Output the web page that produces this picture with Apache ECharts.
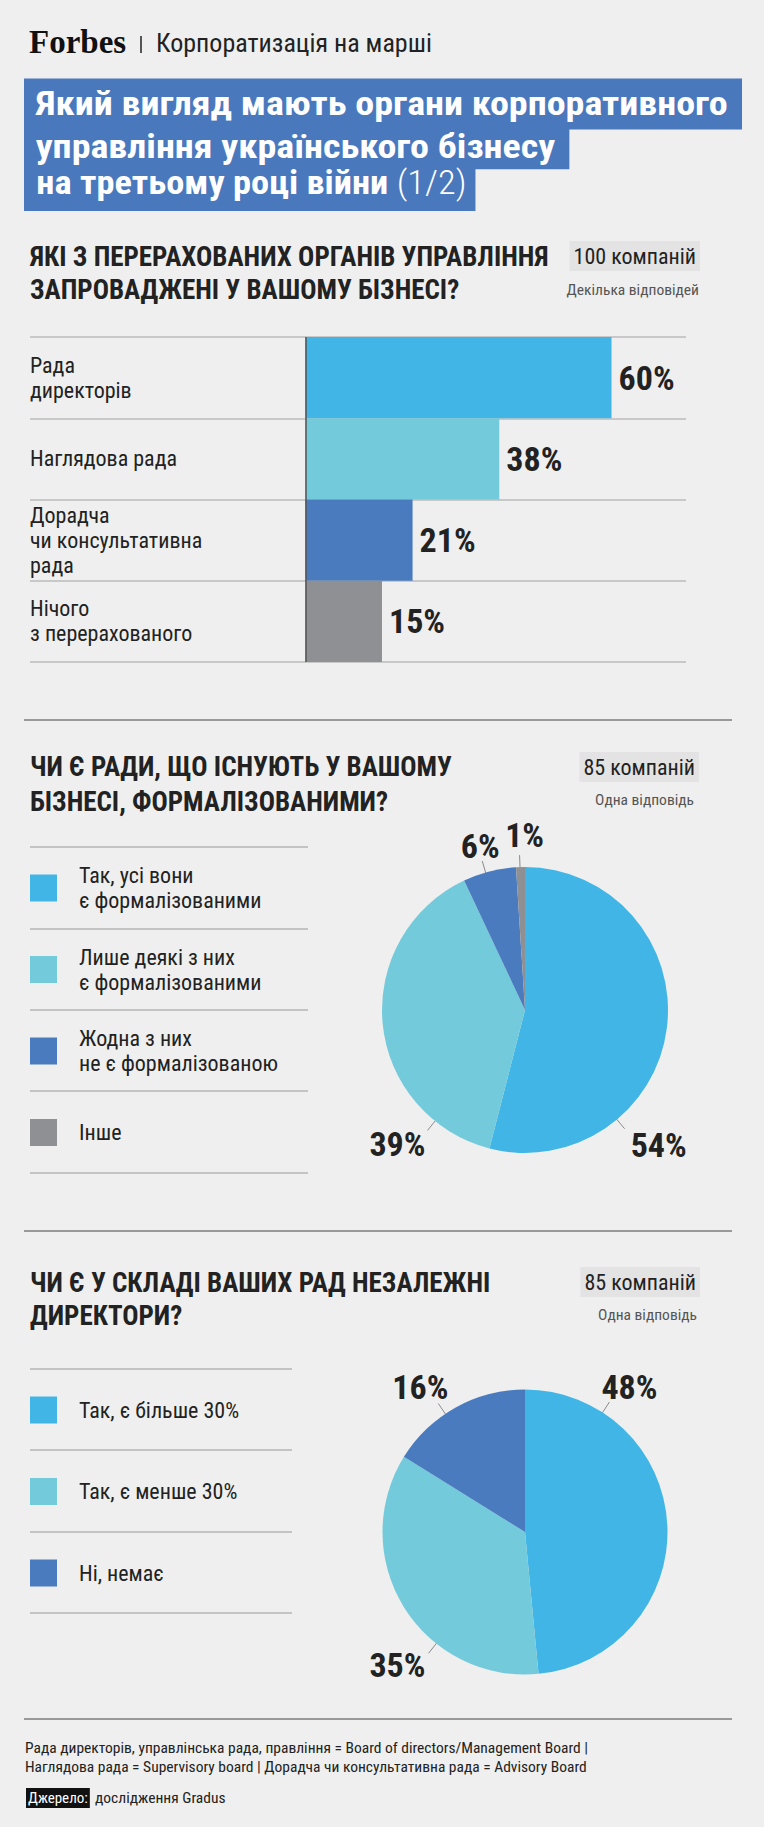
<!DOCTYPE html>
<html><head><meta charset="utf-8">
<script src="https://cdn.jsdelivr.net/npm/echarts@6/dist/echarts.min.js"></script>
<style>html,body{margin:0;padding:0;background:#efefef}#main{width:764px;height:1827px}</style>
</head><body><div id="main"></div>
<script>
// ---------- data ----------
const barCategories = ['Рада\nдиректорів', 'Наглядова рада', 'Дорадча\nчи консультативна\nрада', 'Нічого\nз перерахованого'];
const barValues = [60, 38, 21, 15];

const pie1Categories = ['Так, усі вони\nє формалізованими', 'Лише деякі з них\nє формалізованими', 'Жодна з них\nне є формалізованою', 'Інше'];
const pie1Values = [54, 39, 6, 1];

const pie2Categories = ['Так, є більше 30%', 'Так, є менше 30%', 'Ні, немає'];
const pie2Values = [48, 35, 16];

// ---------- style ----------
const FONT = "'Roboto Condensed', 'Liberation Sans Narrow', sans-serif";
const palette = ['#41b6e6', '#73cadb', '#4a7bbf', '#8f9094'];
const INK = '#222';

const pie1Center = [525, 1010], pie1Radius = 143;
const pie2Center = [525, 1532], pie2Radius = 142.5;
const pie1LabelPlace = [
  {angle: 140, align: 'left', dx: 6, dy: 16},
  {angle: 219, align: 'right', dx: -2, dy: 14},
  {angle: 344, align: 'center', dx: -2, dy: -15},
  {angle: 358, align: 'center', dx: 5, dy: -20}
];
const pie2LabelPlace = [
  {angle: 33, align: 'center', dx: 20, dy: -15},
  {angle: 218.5, align: 'right', dx: -3, dy: 12},
  {angle: 326, align: 'center', dx: -18, dy: -16}
];

function makeLabelLayout(center, place) {
  return function (params) {
    const p = place[params.dataIndex];
    const a = p.angle * Math.PI / 180;
    const sx = center[0] + 127 * Math.sin(a), sy = center[1] - 127 * Math.cos(a);
    const ex = center[0] + 155 * Math.sin(a), ey = center[1] - 155 * Math.cos(a);
    return {
      x: ex + p.dx, y: ey + p.dy, align: p.align, verticalAlign: 'middle',
      labelLinePoints: [[sx, sy], [ex, ey], [ex, ey]]
    };
  };
}

function txt(x, y, text, o, extra) {
  return Object.assign({type: 'text', x: x, y: y, silent: true, style: Object.assign({
    text: text, fontFamily: FONT, fontSize: 20, fill: INK, align: 'left', verticalAlign: 'middle'
  }, o || {})}, extra || {});
}
function hline(x1, x2, y, color, w) {
  return {type: 'line', silent: true, shape: {x1: x1, y1: y, x2: x2, y2: y}, style: {stroke: color, lineWidth: w}};
}

const chart = echarts.init(document.getElementById('main'), null, {renderer: 'svg', width: 764, height: 1827});

const TITLE_BG = '#4a78bd';
const graphic = [
  // header
  txt(29, 42, 'Forbes', {fontFamily: "'Liberation Serif', 'DejaVu Serif', serif", fontWeight: 'bold', fontSize: 33, fill: '#111'}),
  {type: 'line', silent: true, shape: {x1: 141, y1: 36, x2: 141, y2: 53}, style: {stroke: INK, lineWidth: 1.5}},
  txt(156, 43, 'Корпоратизація на марші', {fontSize: 26}),
  // title boxes
  txt(24, 104, 'Який вигляд мають органи корпоративного', {fontSize: 32.5, fontWeight: 'bold', fill: '#fff', backgroundColor: TITLE_BG, lineHeight: 44, padding: [4, 12, 3, 10]}, {scaleX: 1.17}),
  txt(24, 146.5, 'управління українського бізнесу', {fontSize: 32.5, fontWeight: 'bold', fill: '#fff', backgroundColor: TITLE_BG, lineHeight: 36, padding: [0, 12, 9.5, 10]}, {scaleX: 1.17}),
  txt(24, 189, '{b|на третьому році війни} {r|(1/2)}', {fontSize: 32.5, fill: '#fff', backgroundColor: TITLE_BG, lineHeight: 32, padding: [0, 8, 12, 11],
    rich: {b: {fontSize: 32.5, fontWeight: 'bold', fill: '#fff', fontFamily: FONT}, r: {fontSize: 32.5, fontWeight: 300, fill: '#fff', fontFamily: FONT}}}, {scaleX: 1.12}),
  // section 1 heading
  txt(30, 273.5, 'ЯКІ З ПЕРЕРАХОВАНИХ ОРГАНІВ УПРАВЛІННЯ\nЗАПРОВАДЖЕНІ У ВАШОМУ БІЗНЕСІ?', {fontSize: 27, fontWeight: 'bold', lineHeight: 33}),
  txt(700, 256, '100 компаній', {fontSize: 22, align: 'right', backgroundColor: '#e3e3e3', lineHeight: 30, padding: [0, 4, 0, 4]}),
  txt(699, 289.5, 'Декілька відповідей', {fontSize: 15.5, align: 'right', fill: '#555'}),
  hline(24, 732, 720, '#999', 2),
  // section 2 heading
  txt(30, 784.5, 'ЧИ Є РАДИ, ЩО ІСНУЮТЬ У ВАШОМУ\nБІЗНЕСІ, ФОРМАЛІЗОВАНИМИ?', {fontSize: 27, fontWeight: 'bold', lineHeight: 35}),
  txt(699, 767, '85 компаній', {fontSize: 22, align: 'right', backgroundColor: '#e3e3e3', lineHeight: 30, padding: [0, 4, 0, 4]}),
  txt(694, 800, 'Одна відповідь', {fontSize: 15.5, align: 'right', fill: '#555'}),
  hline(30, 308, 847, '#c4c4c4', 2),
  hline(30, 308, 929, '#c4c4c4', 2),
  hline(30, 308, 1010, '#c4c4c4', 2),
  hline(30, 308, 1091, '#c4c4c4', 2),
  hline(30, 308, 1173, '#c4c4c4', 2),
  hline(24, 732, 1231, '#999', 2),
  // section 3 heading
  txt(30, 1299.5, 'ЧИ Є У СКЛАДІ ВАШИХ РАД НЕЗАЛЕЖНІ\nДИРЕКТОРИ?', {fontSize: 27, fontWeight: 'bold', lineHeight: 33}),
  txt(700, 1282, '85 компаній', {fontSize: 22, align: 'right', backgroundColor: '#e3e3e3', lineHeight: 30, padding: [0, 4, 0, 4]}),
  txt(697, 1314.5, 'Одна відповідь', {fontSize: 15.5, align: 'right', fill: '#555'}),
  hline(30, 292, 1369, '#c4c4c4', 2),
  hline(30, 292, 1450, '#c4c4c4', 2),
  hline(30, 292, 1532, '#c4c4c4', 2),
  hline(30, 292, 1613, '#c4c4c4', 2),
  hline(24, 732, 1719, '#999', 2),
  // footnote
  txt(25, 1757.5, 'Рада директорів, управлінська рада, правління = Board of directors/Management Board |\nНаглядова рада = Supervisory board | Дорадча чи консультативна рада = Advisory Board', {fontSize: 15.5, lineHeight: 19.5}),
  txt(26, 1798, 'Джерело:', {fontSize: 15, fill: '#fff', backgroundColor: '#111', lineHeight: 20, padding: [0, 2, 0, 2]}),
  txt(95, 1798, 'дослідження Gradus', {fontSize: 15.5})
];

const legendText = {fontFamily: FONT, fontSize: 22, lineHeight: 25, color: INK, padding: [0, 0, 0, 17]};

const option = {
  backgroundColor: '#efefef',
  animation: false,
  textStyle: {fontFamily: FONT},
  graphic: graphic,
  grid: [{left: 30, top: 337, width: 656, height: 325, containLabel: false}],
  xAxis: [{type: 'value', gridIndex: 0, min: -54, max: 74.6, show: false}],
  yAxis: [{
    type: 'category', gridIndex: 0, data: barCategories, inverse: true,
    axisLine: {show: false}, axisTick: {show: false},
    splitLine: {show: true, lineStyle: {color: '#c8c8c8', width: 2}},
    axisLabel: {align: 'left', margin: 0, fontFamily: FONT, fontSize: 22, lineHeight: 25, color: INK}
  }],
  legend: [
    {
      orient: 'vertical', left: 30, top: 863, padding: 0, itemGap: 31.5, itemWidth: 27, itemHeight: 27,
      icon: 'rect', selectedMode: false, textStyle: legendText,
      data: pie1Categories.map(function (n, i) {
        return i === pie1Categories.length - 1 ? {name: n, textStyle: {padding: [12.5, 0, 12.5, 17]}} : {name: n};
      })
    },
    {
      orient: 'vertical', left: 30, top: 1396.5, padding: 0, itemGap: 54.5, itemWidth: 27, itemHeight: 27,
      icon: 'rect', selectedMode: false, textStyle: legendText,
      data: pie2Categories.map(function (n) { return {name: n}; })
    }
  ],
  series: [
    {
      type: 'bar', xAxisIndex: 0, yAxisIndex: 0, barCategoryGap: '0%', silent: true,
      data: barValues.map(function (v, i) { return {value: v, itemStyle: {color: palette[i]}}; }),
      label: {show: true, position: 'right', distance: 7, formatter: '{c}%', fontFamily: FONT, fontWeight: 'bold', fontSize: 34, color: INK},
      markLine: {silent: true, symbol: 'none', label: {show: false}, lineStyle: {color: '#555', width: 1.5, type: 'solid'}, data: [{xAxis: 0}]}
    },
    {
      type: 'pie', center: pie1Center, radius: pie1Radius, startAngle: 90, silent: true,
      data: pie1Categories.map(function (n, i) { return {name: n, value: pie1Values[i], itemStyle: {color: palette[i]}}; }),
      label: {show: true, formatter: '{c}%', fontFamily: FONT, fontWeight: 'bold', fontSize: 34, color: INK, overflow: 'none'},
      labelLine: {show: true, lineStyle: {color: '#8a8a8a', width: 1}},
      labelLayout: makeLabelLayout(pie1Center, pie1LabelPlace)
    },
    {
      type: 'pie', center: pie2Center, radius: pie2Radius, startAngle: 90, silent: true,
      data: pie2Categories.map(function (n, i) { return {name: n, value: pie2Values[i], itemStyle: {color: palette[i]}}; }),
      label: {show: true, formatter: '{c}%', fontFamily: FONT, fontWeight: 'bold', fontSize: 34, color: INK, overflow: 'none'},
      labelLine: {show: true, lineStyle: {color: '#8a8a8a', width: 1}},
      labelLayout: makeLabelLayout(pie2Center, pie2LabelPlace)
    }
  ]
};
chart.setOption(option);
</script></body></html>
